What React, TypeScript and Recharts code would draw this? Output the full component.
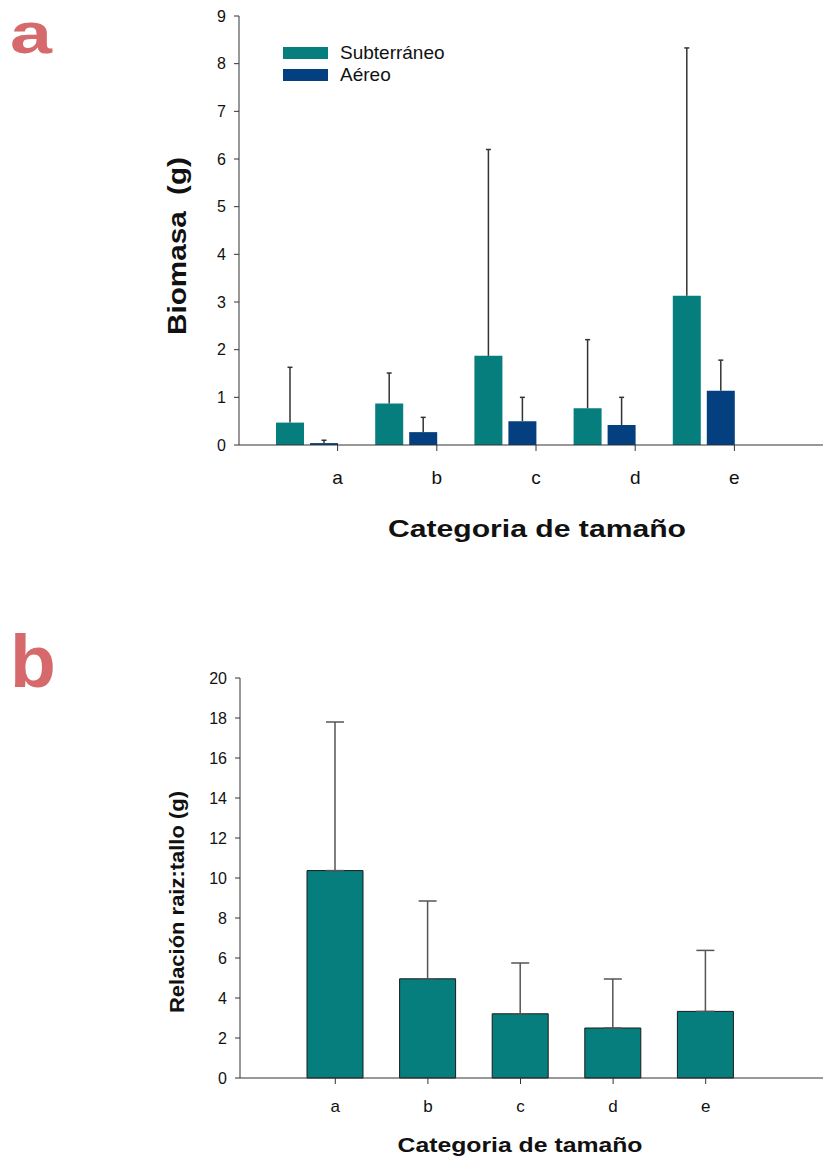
import React from "react";
import { BarChart, Bar, XAxis, YAxis, ErrorBar, Legend, Label } from "recharts";

// Panel a: biomasa por categoria de tamaño (media y desviación)
const categories = ["a", "b", "c", "d", "e"];
const seriesNames = ["Subterráneo", "Aéreo"];
const subterraneo = [0.47, 0.87, 1.87, 0.77, 3.13];
const subterraneoSd = [1.16, 0.64, 4.33, 1.44, 5.2];
const aereo = [0.04, 0.27, 0.5, 0.42, 1.14];
const aereoSd = [0.06, 0.31, 0.5, 0.58, 0.64];
const biomasaTicks = [0, 1, 2, 3, 4, 5, 6, 7, 8, 9];

// Panel b: relación raiz:tallo
const relacion = [10.37, 4.96, 3.21, 2.5, 3.33];
const relacionSd = [7.43, 3.89, 2.54, 2.45, 3.05];
const relacionTicks = [0, 2, 4, 6, 8, 10, 12, 14, 16, 18, 20];

const TEAL = "#077e7e";
const NAVY = "#043f7f";
const AXIS = "#333";
const FONT = "'Liberation Sans', Arial, sans-serif";

const biomasaData = categories.map((c, i) => ({
  cat: c,
  sub: subterraneo[i],
  subSd: subterraneoSd[i],
  aer: aereo[i],
  aerSd: aereoSd[i],
}));

const relacionData = categories.map((c, i) => ({
  cat: c,
  rel: relacion[i],
  relErr: [0, relacionSd[i]],
}));

// upper-only whisker drawn as a stacked segment above the bar
const Whisker = (props: any) => {
  const { x, y, width, height } = props;
  if (!height) return null;
  const cx = x + width / 2;
  return (
    <g stroke={AXIS} strokeWidth={1.5}>
      <line x1={cx} x2={cx} y1={y + height} y2={y} />
      <line x1={cx - 2.5} x2={cx + 2.5} y1={y} y2={y} />
    </g>
  );
};

const LegendBox = ({ payload }: any) => {
  const items = (payload || [])
    .filter((p: any) => seriesNames.includes(p.value))
    .sort((a: any, b: any) => seriesNames.indexOf(a.value) - seriesNames.indexOf(b.value));
  return (
    <div style={{ fontFamily: FONT }}>
      {items.map((p: any) => (
        <div
          key={p.value}
          style={{ display: "flex", alignItems: "center", height: 22.5 }}
        >
          <span
            style={{
              display: "inline-block",
              width: 45,
              height: 12,
              background: p.color,
              marginRight: 12,
            }}
          />
          <span style={{ fontSize: 19, color: "#111" }}>{p.value}</span>
        </div>
      ))}
    </div>
  );
};

const panelLetter = (letter: string, top: number, size: number, sx: number) => (
  <div
    style={{
      position: "absolute",
      left: 10,
      top,
      fontFamily: FONT,
      fontWeight: "bold",
      fontSize: size,
      lineHeight: 1.117,
      color: "#d5696c",
      transform: `scaleX(${sx})`,
      transformOrigin: "left top",
    }}
  >
    {letter}
  </div>
);

const tickStyle = { fill: "#111", fontSize: 15, fontFamily: FONT };

export default function App() {
  return (
    <div
      style={{
        position: "absolute",
        left: 0,
        top: 0,
        width: 823,
        height: 1161,
        overflow: "hidden",
        background: "#fff",
      }}
    >
      {panelLetter("a", 1, 58, 1.3)}
      {panelLetter("b", 620, 75, 1)}

      {/* Panel a */}
      <div style={{ position: "absolute", left: 0, top: 0 }}>
        <BarChart
          width={823}
          height={600}
          data={biomasaData}
          margin={{ top: 16, right: 0, left: 179, bottom: 35 }}
          barGap={6}
          barSize={28}
        >
          <XAxis xAxisId="bars" dataKey="cat" hide height={0} padding={{ left: 18, right: 70 }} />
          <XAxis
            xAxisId="ticks"
            dataKey="cat"
            height={120}
            padding={{ left: 49, right: 39 }}
            stroke={AXIS}
            tickSize={6}
            tickMargin={20}
            tick={{ ...tickStyle, fontSize: 19 }}
          >
            <Label
              content={() => (
                <text
                  x={537}
                  y={537}
                  textAnchor="middle"
                  textLength={298}
                  lengthAdjust="spacingAndGlyphs"
                  fontFamily={FONT}
                  fontWeight="bold"
                  fontSize={23}
                  fill="#111"
                >
                  Categoria de tamaño
                </text>
              )}
            />
          </XAxis>
          <YAxis
            width={60}
            domain={[0, 9]}
            ticks={biomasaTicks}
            stroke={AXIS}
            tickSize={5}
            tickMargin={8}
            tick={{ ...tickStyle, fontSize: 16 }}
            interval={0}
          >
            <Label
              content={() => (
                <text
                  x={177}
                  y={246}
                  transform="rotate(-90 177 246)"
                  textAnchor="middle"
                  dominantBaseline="central"
                  textLength={178}
                  lengthAdjust="spacingAndGlyphs"
                  fontFamily={FONT}
                  fontWeight="bold"
                  fontSize={25}
                  fill="#111"
                  style={{ whiteSpace: "pre" }}
                >
                  {"Biomasa  (g)"}
                </text>
              )}
            />
          </YAxis>
          <Legend
            layout="horizontal"
            verticalAlign="middle"
            align="center"
            wrapperStyle={{ top: 41.5, left: 283, width: "auto" }}
            content={<LegendBox />}
          />
          <Bar xAxisId="bars" stackId="s" dataKey="sub" name="Subterráneo" fill={TEAL} isAnimationActive={false} />
          <Bar
            xAxisId="bars"
            stackId="s"
            dataKey="subSd"
            legendType="none"
            fill="none"
            shape={<Whisker />}
            isAnimationActive={false}
          />
          <Bar xAxisId="bars" stackId="a" dataKey="aer" name="Aéreo" fill={NAVY} isAnimationActive={false} />
          <Bar
            xAxisId="bars"
            stackId="a"
            dataKey="aerSd"
            legendType="none"
            fill="none"
            shape={<Whisker />}
            isAnimationActive={false}
          />
        </BarChart>
      </div>

      {/* Panel b */}
      <div style={{ position: "absolute", left: 0, top: 600 }}>
        <BarChart
          width={823}
          height={561}
          data={relacionData}
          margin={{ top: 78, right: 0, left: 180, bottom: 0 }}
          barSize={56}
        >
          <XAxis
            dataKey="cat"
            height={83}
            padding={{ left: 49, right: 71 }}
            stroke={AXIS}
            tickSize={6}
            tickMargin={16}
            tick={{ ...tickStyle, fontSize: 17 }}
          >
            <Label
              content={() => (
                <text
                  x={520}
                  y={552}
                  textAnchor="middle"
                  textLength={245}
                  lengthAdjust="spacingAndGlyphs"
                  fontFamily={FONT}
                  fontWeight="bold"
                  fontSize={20}
                  fill="#111"
                >
                  Categoria de tamaño
                </text>
              )}
            />
          </XAxis>
          <YAxis
            width={60}
            domain={[0, 20]}
            ticks={relacionTicks}
            stroke={AXIS}
            tickSize={5}
            tickMargin={8}
            tick={{ ...tickStyle, fontSize: 16 }}
            interval={0}
          >
            <Label
              content={() => (
                <text
                  x={177}
                  y={302}
                  transform="rotate(-90 177 302)"
                  textAnchor="middle"
                  dominantBaseline="central"
                  textLength={222}
                  lengthAdjust="spacingAndGlyphs"
                  fontFamily={FONT}
                  fontWeight="bold"
                  fontSize={20}
                  fill="#111"
                >
                  Relación raiz:tallo (g)
                </text>
              )}
            />
          </YAxis>
          <Bar dataKey="rel" fill={TEAL} stroke="#1a1a1a" strokeWidth={1} isAnimationActive={false}>
            <ErrorBar dataKey="relErr" direction="y" width={9} stroke="#555" strokeWidth={1.5} />
          </Bar>
        </BarChart>
      </div>
    </div>
  );
}
